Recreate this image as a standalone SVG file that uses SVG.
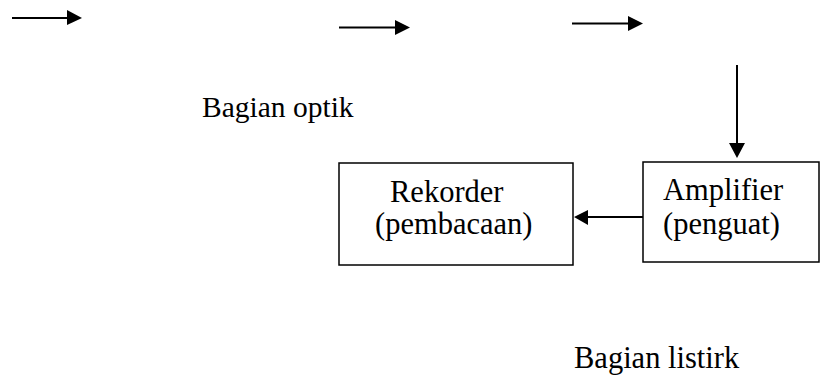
<svg xmlns="http://www.w3.org/2000/svg" width="821" height="376" viewBox="0 0 821 376">
<style>
.box{fill:#fff;stroke:#000;stroke-width:1.5}
.ln{stroke:#000;stroke-width:2;fill:none}
.hd{fill:#000}
</style>
<rect width="821" height="376" fill="#fff"/>
<g id="connectors">
<line class="ln" x1="12" y1="18" x2="68" y2="18"/><polygon class="hd" points="67,10 82,18 67,25"/>
<line class="ln" x1="339" y1="27.5" x2="396" y2="27.5"/><polygon class="hd" points="395,20 410,27.5 395,35"/>
<line class="ln" x1="572" y1="23.5" x2="629" y2="23.5"/><polygon class="hd" points="628,16 643,23.5 628,31"/>
<line class="ln" x1="737" y1="65" x2="737" y2="144"/><polygon class="hd" points="729,143 745,143 737,158"/>
<line class="ln" x1="643" y1="217" x2="587" y2="217"/><polygon class="hd" points="588,210 588,225 574,217"/>
</g>
<g font-family="Liberation Serif, Times New Roman, serif" font-size="30.5" fill="#000">
<g id="label-optik"><text x="202" y="117" font-size="29.5">Bagian optik</text></g>
<g id="node-rekorder">
<rect class="box" x="339" y="163" width="234" height="102"/>
<text x="390" y="202">Rekorder</text>
<text x="375" y="234">(pembacaan)</text>
</g>
<g id="node-amplifier">
<rect class="box" x="643" y="162" width="176" height="100"/>
<text x="663" y="200">Amplifier</text>
<text x="663" y="234">(penguat)</text>
</g>
<g id="label-listrik"><text x="574" y="367.5">Bagian listirk</text></g>
</g>
</svg>
